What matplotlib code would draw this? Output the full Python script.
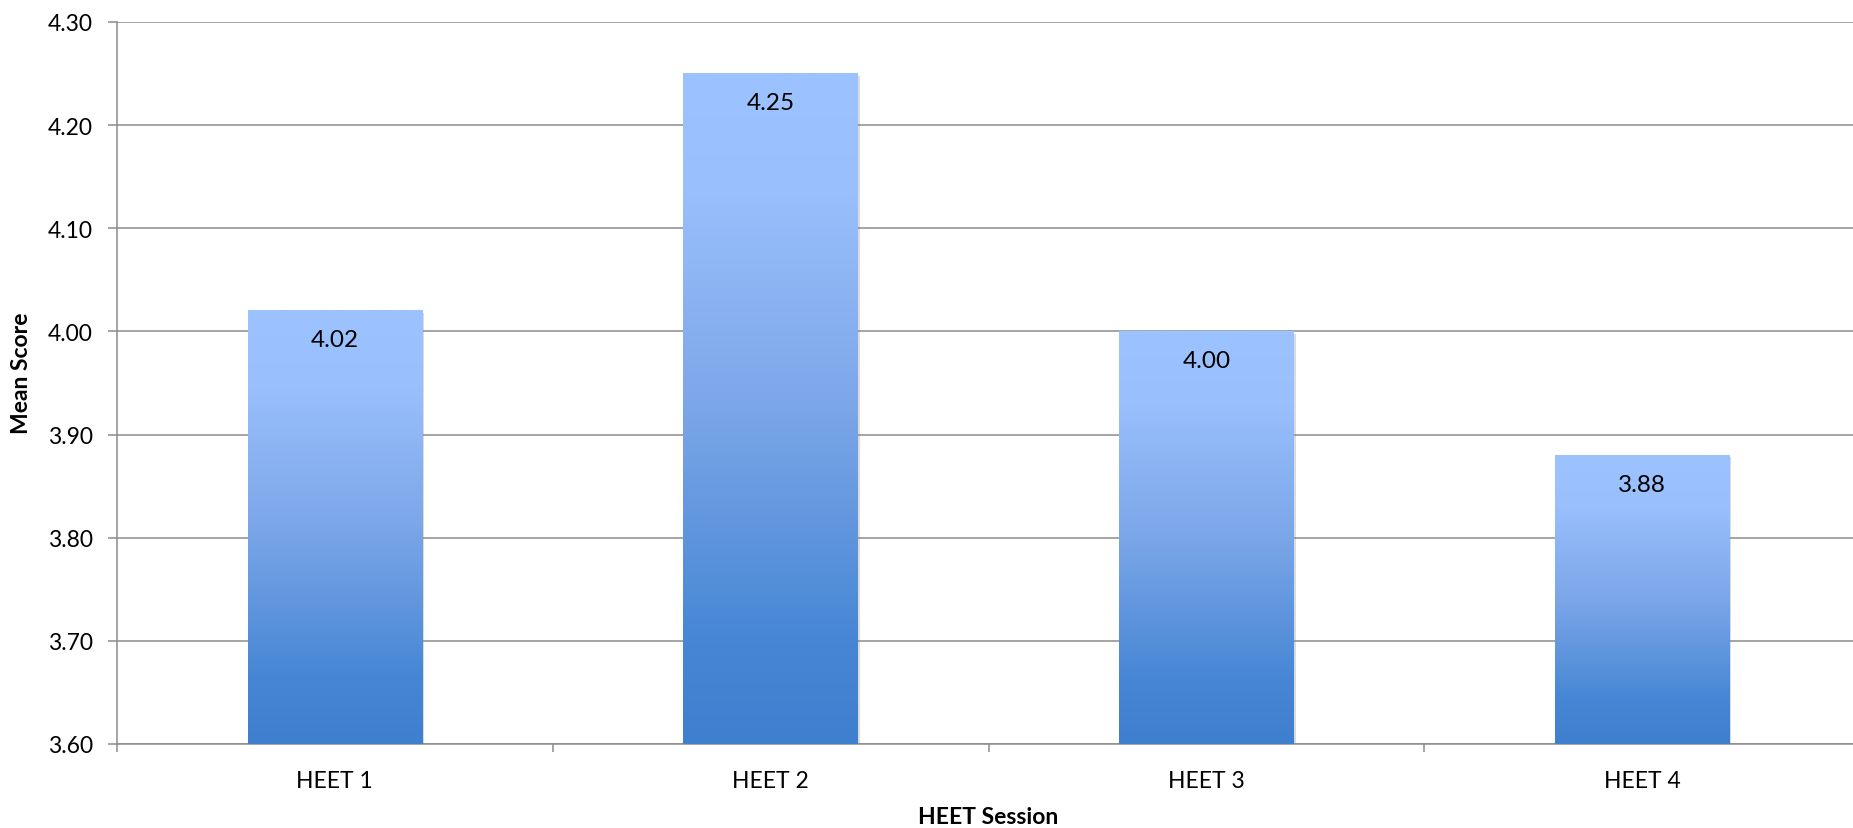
import numpy as np
import matplotlib.pyplot as plt
from matplotlib.colors import LinearSegmentedColormap
import matplotlib.patheffects as pe

# Mean scores per HEET session
sessions = ["HEET 1", "HEET 2", "HEET 3", "HEET 4"]
mean_scores = [4.02, 4.25, 4.00, 3.88]
y_ticks = [3.60, 3.70, 3.80, 3.90, 4.00, 4.10, 4.20, 4.30]

plt.rcParams['font.family'] = ['Lato', 'DejaVu Sans']

W, H = 1853, 829
fig = plt.figure(figsize=(W / 100, H / 100), dpi=100)
left, right, top, bottom = 117, 1860, 23, 745
ax = fig.add_axes([left / W, 1 - bottom / H, (right - left) / W, (bottom - top) / H])

# vertical gradient, light at the top of each bar, dark at the base
grad = LinearSegmentedColormap.from_list(
    "bar_grad",
    [(0.0, "#3f7fcf"), (0.15, "#4686d4"), (0.5, "#7ba6e8"), (0.82, "#99bffc"), (1.0, "#9cc2ff")])

x = np.arange(len(sessions))
base = y_ticks[0]
bars = ax.bar(x, np.array(mean_scores) - base, bottom=base, width=0.4,
              color="white", edgecolor="none", zorder=2)
shade = np.linspace(0, 1, 256).reshape(-1, 1)
for b in bars:
    b.set_path_effects([pe.SimplePatchShadow(offset=(1.5, -1.5), shadow_rgbFace="#888888", alpha=0.3),
                        pe.Normal()])
    x0, y0 = b.get_x(), b.get_y()
    ax.imshow(shade, cmap=grad, origin="lower", aspect="auto",
              extent=(x0, x0 + b.get_width(), y0, y0 + b.get_height()), zorder=3)

for xi, v in zip(x, mean_scores):
    ax.annotate(f"{v:.2f}", (xi, v), xytext=(0, -21), textcoords="offset points",
                ha="center", va="center", fontsize=17.5, color="black", zorder=4)

ax.set_xlim(-0.5, len(sessions) - 0.5)
ax.set_ylim(y_ticks[0], y_ticks[-1])
ax.set_yticks(y_ticks)
ax.set_yticklabels([f"{t:.2f}" for t in y_ticks])
ax.set_xticks(x)
ax.set_xticklabels(sessions)
ax.set_xticks(np.arange(-0.5, len(sessions) - 0.5, 1.0), minor=True)

grid_c = "#8c8c8c"
ax.grid(axis="y", color=grid_c, linewidth=1.1, zorder=0)
ax.set_axisbelow(True)
for s in ["top", "right"]:
    ax.spines[s].set_visible(False)
for s in ["left", "bottom"]:
    ax.spines[s].set_color(grid_c)
    ax.spines[s].set_linewidth(1.1)

ax.tick_params(axis="y", direction="out", length=6.5, width=1.1, color=grid_c,
               labelsize=16.5, pad=11, labelcolor="black")
ax.tick_params(axis="x", which="major", length=0, labelsize=16.5, pad=19, labelcolor="black")
ax.tick_params(axis="x", which="minor", direction="out", length=6, width=1.1, color=grid_c)

ax.set_ylabel("Mean Score", fontsize=16.5, fontweight="bold")
ax.yaxis.set_label_coords(22 / W, 0.55, transform=fig.transFigure)
ax.set_xlabel("HEET Session", fontsize=16.5, fontweight="bold")
ax.xaxis.set_label_coords(988 / W, 0.014, transform=fig.transFigure)
ax.xaxis.label.set_va("center")
ax.yaxis.label.set_va("center")

fig.savefig("out.png", dpi=100)
